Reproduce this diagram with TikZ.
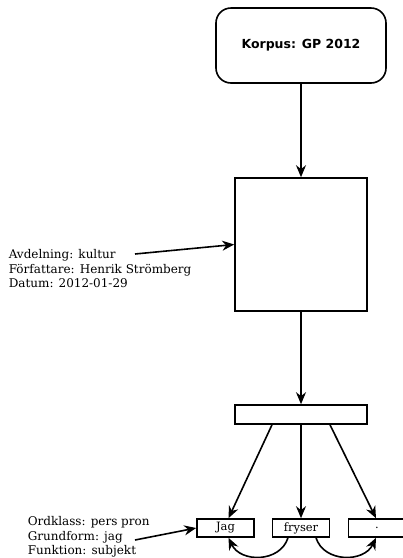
\documentclass[tikz,border=0pt]{standalone}
\usepackage{fontspec}
\setmainfont{DejaVu Serif}
\newfontfamily\boxsans{DejaVu Sans}
\usetikzlibrary{arrows.meta}
\begin{document}
\begin{tikzpicture}[x=1pt,y=-1pt,
  line width=1.6pt,
  arr/.style={-{Stealth[length=12pt,width=10pt]}},
  labeltext/.style={align=left,anchor=west,inner sep=0pt,font=\fontsize{12}{14.5}\selectfont},
  wordbox/.style={draw,rectangle,minimum width=57pt,minimum height=18pt,inner sep=0pt,font=\fontsize{11.5}{12}\selectfont}
]
\useasboundingbox (0,0) rectangle (403,558);
\node[draw,rounded corners=15pt,minimum width=170pt,minimum height=75pt,font=\boxsans\bfseries\fontsize{12.5}{14}\selectfont] (korpus) at (301,45.5) {Korpus: GP 2012};
\node[draw,minimum width=132pt,minimum height=133pt,inner sep=0pt] (doc) at (301,244.5) {};
\node[draw,minimum width=132pt,minimum height=19pt,inner sep=0pt] (sent) at (301,414.5) {};
\node[wordbox] (jag) at (225.5,528) {Jag};
\node[wordbox] (fryser) at (301,528) {fryser};
\node[wordbox] (dot) at (377,528) {.};
\node[labeltext] (meta) at (8,269) {Avdelning: kultur\\Författare: Henrik Strömberg\\Datum: 2012-01-29};
\node[labeltext] (tok) at (27,537) {Ordklass: pers pron\\Grundform: jag\\Funktion: subjekt};
\coordinate (metaend) at (135,254);
\coordinate (tokend) at (135,540);
\draw[arr] (korpus) -- (doc);
\draw[arr] (doc) -- (sent);
\draw[arr] ([xshift=-29pt]sent.south) -- ([xshift=3pt]jag.north);
\draw[arr] (sent.south) -- (fryser.north);
\draw[arr] ([xshift=29pt]sent.south) -- ([xshift=-1pt]dot.north);
\draw[arr] (metaend) -- (doc.west);
\draw[arr] (tokend) -- (jag.west);
\draw[arr] ([xshift=-13pt]fryser.south) .. controls +(-8,25) and +(12,25) .. ([xshift=3pt]jag.south);
\draw[arr] ([xshift=15pt]fryser.south) .. controls +(8,25) and +(-12,25) .. ([xshift=-1pt]dot.south);
\end{tikzpicture}
\end{document}
